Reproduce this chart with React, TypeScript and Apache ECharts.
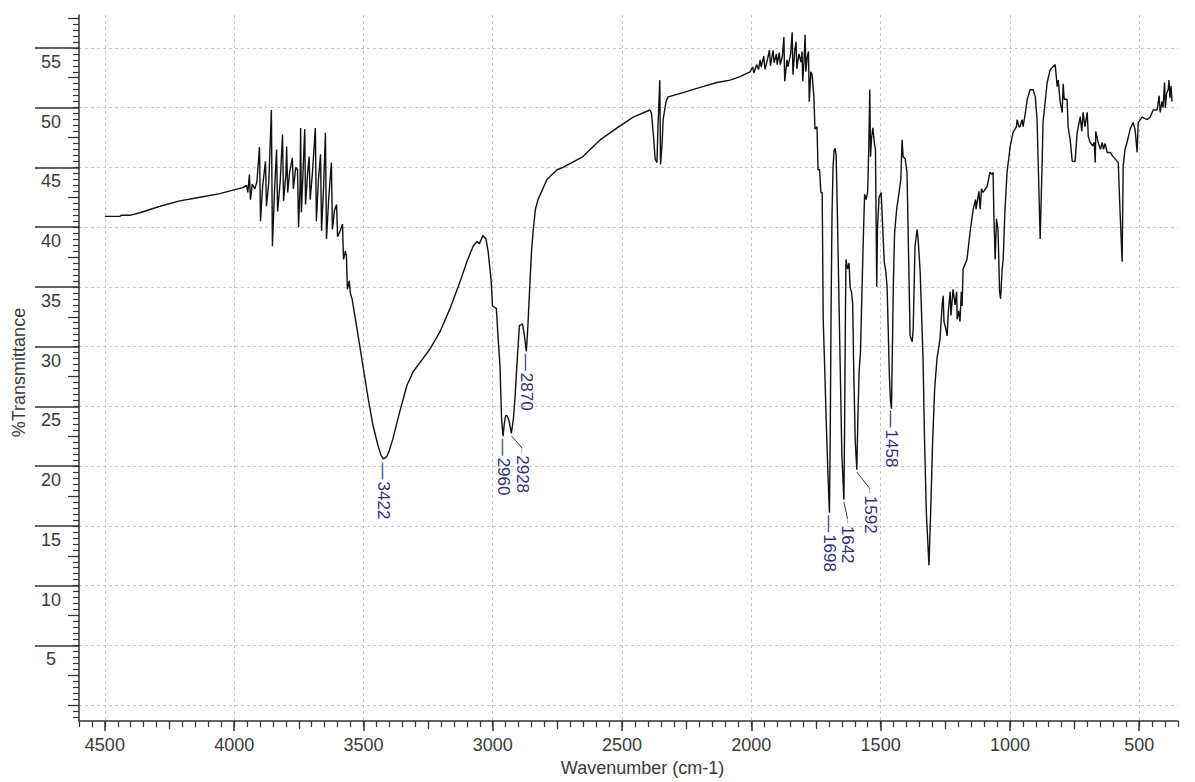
import React, { useEffect, useRef } from "react";
import * as echarts from "echarts";

// ---- spectrum data: [wavenumber (cm-1), %Transmittance] ----
const baselineRegion: [number, number][] = [
  [4500, 40.9], [4442, 40.9], [4436, 41.0], [4400, 41.0], [4364, 41.2], [4287, 41.75],
  [4210, 42.2], [4132, 42.5], [4055, 42.8], [4005, 43.1], [3966, 43.3],
];

const noisyRegion: [number, number][] = [
  [3952, 43.5], [3947, 42.9], [3941, 44.4], [3937, 42.3], [3930, 43.6], [3920, 43.2],
  [3912, 43.8], [3902, 46.7], [3898, 40.5], [3890, 43.4], [3879, 45.5], [3875, 41.75],
  [3866, 43.8], [3856, 49.8], [3852, 38.4], [3844, 43.0], [3836, 46.5], [3832, 41.3],
  [3822, 43.8], [3813, 47.75], [3809, 42.2], [3800, 44.4], [3797, 46.75], [3793, 42.9],
  [3786, 44.5], [3775, 45.8], [3771, 43.2], [3762, 45.0], [3755, 44.8], [3751, 40.0],
  [3745, 43.5], [3743, 48.3], [3740, 41.25], [3733, 45.0], [3727, 48.2], [3724, 41.9],
  [3716, 44.5], [3710, 45.9], [3706, 42.3], [3697, 44.6], [3686, 48.3], [3682, 40.5],
  [3674, 44.0], [3666, 46.1], [3662, 39.7], [3654, 43.4], [3647, 47.9], [3643, 39.0],
  [3634, 42.5], [3624, 45.4], [3620, 39.8], [3612, 41.4], [3604, 41.9], [3600, 39.2],
  [3590, 39.7], [3581, 40.25], [3577, 37.3], [3570, 38.0], [3566, 37.6], [3562, 34.8],
  [3555, 35.5], [3550, 34.4],
];

const ohChRegion: [number, number][] = [
  [3544, 34.0], [3525, 31.5], [3502, 28.4], [3482, 25.7], [3463, 23.4], [3444, 21.75],
  [3432, 20.9], [3422, 20.6], [3410, 20.8], [3400, 21.3], [3386, 22.3], [3359, 24.6],
  [3332, 26.75], [3308, 27.9], [3270, 29.0], [3243, 29.8], [3204, 31.25], [3165, 33.2],
  [3127, 35.4], [3100, 37.1], [3076, 38.4], [3060, 38.8], [3052, 38.6], [3038, 39.3],
  [3026, 39.0], [3018, 38.0], [3006, 35.5], [3001, 33.4], [2986, 33.2], [2980, 31.0],
  [2972, 28.4], [2966, 24.0], [2960, 22.5], [2955, 23.6], [2950, 24.25], [2944, 24.2],
  [2938, 23.9], [2928, 22.75], [2920, 24.0], [2914, 25.7], [2905, 29.0], [2897, 31.75],
  [2885, 31.9], [2878, 31.0], [2870, 29.6], [2864, 31.75], [2856, 35.4], [2850, 38.0],
  [2844, 39.6], [2835, 41.5], [2825, 42.3], [2790, 44.0], [2751, 44.8], [2728, 45.0],
  [2651, 45.9], [2585, 47.3], [2519, 48.3], [2457, 49.2], [2392, 49.8], [2386, 49.5],
  [2378, 47.5], [2372, 45.7], [2365, 45.4], [2361, 48.4], [2354, 52.3], [2351, 45.25],
  [2345, 47.0], [2341, 49.0], [2330, 50.5], [2322, 50.9], [2264, 51.25], [2198, 51.7],
  [2133, 52.1], [2082, 52.3], [2044, 52.6],
];

const noisyCarbonylRegion: [number, number][] = [
  [2005, 53.0], [1995, 53.4], [1990, 52.9], [1980, 53.6], [1972, 53.2], [1966, 54.0],
  [1962, 53.4], [1952, 54.3], [1947, 53.2], [1938, 54.0], [1930, 54.8], [1926, 53.5],
  [1916, 54.8], [1912, 53.75], [1903, 54.5], [1900, 53.6], [1892, 54.6], [1888, 53.6],
  [1880, 54.3], [1874, 55.9], [1871, 52.2], [1862, 54.0], [1858, 53.4], [1848, 54.5],
  [1842, 56.3], [1839, 52.75], [1832, 54.8], [1827, 55.5], [1824, 53.25], [1816, 54.5],
  [1808, 53.8], [1804, 54.7], [1801, 52.2], [1796, 54.0], [1792, 56.1], [1789, 53.0],
  [1784, 54.2], [1779, 54.7], [1776, 50.5], [1770, 53.0], [1765, 52.75], [1758, 50.9],
  [1754, 48.2], [1746, 48.4], [1742, 44.8], [1736, 44.8], [1731, 42.9], [1726, 42.9],
];

const fingerprintRegion: [number, number][] = [
  [1722, 32.3], [1716, 28.0], [1710, 23.5], [1704, 19.5], [1698, 16.1], [1695, 22.0],
  [1692, 32.0], [1688, 41.0], [1684, 45.0], [1680, 46.4], [1676, 46.6], [1672, 46.0],
  [1668, 42.0], [1662, 35.0], [1656, 28.0], [1650, 21.0], [1642, 17.2], [1639, 24.0],
  [1636, 33.0], [1634, 37.3], [1628, 36.5], [1622, 37.0], [1618, 35.0], [1612, 34.5],
  [1608, 33.5], [1604, 28.0], [1598, 22.0], [1592, 19.7], [1588, 24.0], [1583, 28.0],
  [1578, 29.5], [1574, 33.0], [1568, 38.2], [1562, 42.75], [1556, 42.3], [1550, 43.0],
  [1546, 46.5], [1542, 51.5], [1539, 45.9], [1535, 47.5], [1530, 48.3], [1524, 47.0],
  [1520, 46.5], [1515, 35.0], [1512, 40.0], [1506, 42.5], [1498, 42.9], [1492, 40.0],
  [1486, 37.1], [1480, 36.3], [1475, 35.0], [1471, 31.75], [1466, 27.5], [1462, 25.5],
  [1458, 24.8], [1455, 29.0], [1451, 35.0], [1446, 39.5], [1438, 41.5], [1428, 43.0],
  [1422, 44.0], [1417, 47.3], [1413, 45.9], [1405, 45.7], [1398, 44.6], [1394, 40.1],
  [1386, 30.9], [1378, 30.4], [1374, 31.5], [1367, 38.4], [1359, 39.8], [1355, 39.0],
  [1347, 36.25], [1336, 29.0], [1330, 22.0], [1323, 16.0], [1313, 11.7], [1306, 16.5],
  [1299, 22.0], [1291, 26.5], [1282, 29.0],
];

const lowRegion: [number, number][] = [
  [1270, 30.7], [1262, 33.5], [1258, 34.25], [1255, 32.1], [1248, 31.5], [1243, 30.9],
  [1238, 33.0], [1231, 34.6], [1228, 32.6], [1220, 34.8], [1212, 33.5], [1206, 34.6],
  [1204, 32.3], [1198, 33.0], [1193, 32.1], [1188, 34.6], [1185, 33.4], [1181, 36.5],
  [1166, 37.3], [1154, 39.6], [1142, 41.5], [1133, 42.3], [1131, 41.5], [1120, 43.0],
  [1115, 41.5], [1110, 43.2], [1104, 42.9], [1088, 43.4], [1077, 44.6], [1068, 44.4],
  [1065, 44.6], [1062, 40.9], [1057, 37.3], [1052, 40.7], [1046, 39.8], [1040, 34.6],
  [1036, 34.0], [1030, 36.5], [1026, 37.3], [1019, 41.5], [1011, 44.6], [999, 46.75],
  [988, 47.9], [975, 48.4], [972, 49.0], [965, 48.4], [961, 48.4], [953, 49.0],
  [949, 48.4], [940, 49.6], [933, 50.7], [922, 51.5], [910, 51.5], [902, 50.9],
  [895, 49.0], [891, 45.7], [883, 39.0], [875, 45.7], [872, 48.75], [856, 52.1],
  [844, 53.2], [825, 53.6], [817, 51.75], [813, 52.3], [806, 50.5], [798, 49.6],
  [794, 52.0], [790, 50.7], [779, 50.7], [775, 48.4], [767, 47.3], [759, 45.5],
  [748, 45.5], [740, 47.9], [728, 49.25], [722, 48.0], [717, 49.6], [710, 48.4],
  [701, 49.6], [697, 47.6], [690, 47.1], [680, 46.8], [674, 47.1], [670, 45.4],
  [668, 48.0], [659, 47.1], [650, 46.5], [643, 47.1], [638, 46.5], [632, 47.0],
  [624, 46.25], [612, 46.25], [601, 45.9], [581, 45.4], [574, 41.25], [566, 37.1],
  [562, 45.1], [555, 46.5], [547, 47.1], [535, 48.2], [524, 48.75], [516, 48.2],
  [508, 46.25], [504, 48.75], [489, 49.2], [469, 49.0], [458, 49.2], [446, 49.8],
  [431, 49.8], [423, 51.0], [419, 49.6], [412, 50.5], [408, 50.0], [402, 52.1],
  [399, 50.0], [394, 51.2], [388, 51.5], [385, 52.3], [381, 50.8], [377, 51.8],
  [373, 50.5],
];

// ---- axis ticks / labels ----
const xMajorTicks = [500, 1000, 1500, 2000, 2500, 3000, 3500, 4000, 4500];
const xMediumTicks = [750, 1250, 1750, 2250, 2750, 3250, 3750, 4250];
const yMajorTicks = [5, 10, 15, 20, 25, 30, 35, 40, 45, 50, 55];
const yGridValues = [0, 5, 10, 15, 20, 25, 30, 35, 40, 45, 50, 55];
const yMediumTicks = [0, 2.5, 7.5, 12.5, 17.5, 22.5, 27.5, 32.5, 37.5, 42.5, 47.5, 52.5, 57.5];

// ---- peak annotations ----
const peakLabels = ["3422", "2960", "2928", "2870", "1698", "1642", "1592", "1458"];
const peakWavenumbers = [3422, 2960, 2928, 2870, 1698, 1642, 1592, 1458];
const peakMinima = [20.6, 22.5, 22.75, 29.6, 16.1, 17.2, 19.7, 24.8];
const labelWavenumbers = [3422, 2960, 2886, 2870, 1698, 1628, 1541, 1458];
const labelTransmittance = [20.3, 22.3, 21.5, 29.4, 15.9, 15.6, 18.1, 24.65];
const bentLeader = [false, false, true, false, false, true, true, false];

const X_MIN = 350;
const X_MAX = 4600;
const Y_MIN = -1.333;
const Y_MAX = 57.75;

const FONT = "'Liberation Sans', Arial, Helvetica, sans-serif";
const AXIS_COLOR = "#3a3a3a";
const LABEL_COLOR = "#30307a";

export default function App() {
  const ref = useRef<HTMLDivElement>(null);

  useEffect(() => {
    if (!ref.current) return;
    const chart = echarts.init(ref.current, undefined, { renderer: "svg" });

    const spectrum = [
      ...baselineRegion,
      ...noisyRegion,
      ...ohChRegion,
      ...noisyCarbonylRegion,
      ...fingerprintRegion,
      ...lowRegion,
    ];

    const xMinorTicks: number[] = [];
    for (let v = X_MIN; v <= X_MAX; v += 50) xMinorTicks.push(v);
    const yMinorTicks: number[] = [];
    for (let v = -1; v <= 57.5; v += 0.5) yMinorTicks.push(v);

    const baseX = {
      type: "value" as const,
      min: X_MIN,
      max: X_MAX,
      inverse: true,
      position: "bottom" as const,
      gridIndex: 0,
      offset: 0,
    };
    const baseY = {
      type: "value" as const,
      min: Y_MIN,
      max: Y_MAX,
      position: "left" as const,
      gridIndex: 0,
      offset: 0,
    };

    const hiddenParts = {
      axisLine: { show: false, onZero: false },
      axisLabel: { show: false },
      splitLine: { show: false },
    };

    const markPointData = peakLabels.map((lab, i) => ({
      name: lab,
      coord: [labelWavenumbers[i], labelTransmittance[i]],
      label: {
        formatter: bentLeader[i] ? `{s|—}{t|${lab}}` : `{d|—}{t|${lab}}`,
      },
    }));

    const markLineData = peakLabels
      .map((_, i) => i)
      .filter((i) => bentLeader[i])
      .map((i) => [
        { coord: [peakWavenumbers[i], peakMinima[i] - 0.2] },
        { coord: [labelWavenumbers[i], labelTransmittance[i]] },
      ]);

    const plain = (v: number) => String(v);

    const option: any = {
      animation: false,
      backgroundColor: "#ffffff",
      textStyle: { fontFamily: FONT },
      grid: { left: 79, right: 17, top: 15, bottom: 58, containLabel: false },
      xAxis: [
        {
          ...baseX,
          name: "Wavenumber (cm-1)",
          nameLocation: "middle",
          nameGap: 37,
          nameTextStyle: { fontSize: 18, color: AXIS_COLOR, fontFamily: FONT, padding: [0, 0, 0, 28] },
          axisLine: { show: true, onZero: false, lineStyle: { color: "#333", width: 1.5 } },
          axisTick: { show: true, customValues: xMajorTicks, length: 10, lineStyle: { color: "#333", width: 1.5 } },
          axisLabel: {
            show: true,
            customValues: xMajorTicks,
            formatter: plain,
            margin: 15,
            fontSize: 18,
            color: AXIS_COLOR,
            fontFamily: FONT,
          },
          splitLine: { show: true, lineStyle: { color: "#c8c8c8", width: 1, type: [3, 3] } },
        },
        {
          ...baseX,
          ...hiddenParts,
          axisTick: { show: true, customValues: xMediumTicks, length: 8, lineStyle: { color: "#333", width: 1.2 } },
        },
        {
          ...baseX,
          ...hiddenParts,
          axisTick: { show: true, customValues: xMinorTicks, length: 6, lineStyle: { color: "#333", width: 1.2 } },
        },
      ],
      yAxis: [
        {
          ...baseY,
          name: "%Transmittance",
          nameLocation: "middle",
          nameGap: 51,
          nameTextStyle: { fontSize: 18, color: AXIS_COLOR, fontFamily: FONT, padding: [0, 9, 0, 0] },
          axisLine: { show: true, onZero: false, lineStyle: { color: "#333", width: 1.5 } },
          axisTick: { show: false, customValues: yGridValues },
          axisLabel: {
            show: true,
            customValues: yMajorTicks,
            formatter: plain,
            margin: 28,
            align: "center",
            verticalAlign: "top",
            padding: [5, 0, 0, 0],
            fontSize: 18,
            color: AXIS_COLOR,
            fontFamily: FONT,
          },
          splitLine: { show: true, lineStyle: { color: "#c8c8c8", width: 1, type: [3, 3] } },
        },
        {
          ...baseY,
          ...hiddenParts,
          axisTick: { show: true, customValues: yMajorTicks, length: 44, lineStyle: { color: "#333", width: 1.5 } },
        },
        {
          ...baseY,
          ...hiddenParts,
          axisTick: { show: true, customValues: yMediumTicks, length: 11, lineStyle: { color: "#333", width: 1.2 } },
        },
        {
          ...baseY,
          ...hiddenParts,
          axisTick: { show: true, customValues: yMinorTicks, length: 6, lineStyle: { color: "#333", width: 1.2 } },
        },
      ],
      series: [
        {
          type: "line",
          name: "spectrum",
          xAxisIndex: 0,
          yAxisIndex: 0,
          data: spectrum,
          showSymbol: false,
          symbol: "none",
          silent: true,
          lineStyle: { color: "#111111", width: 1.4 },
          markPoint: {
            silent: true,
            symbol: "circle",
            symbolSize: 1,
            itemStyle: { color: "rgba(0,0,0,0)" },
            label: {
              show: true,
              position: "inside",
              rotate: -90,
              align: "left",
              verticalAlign: "middle",
              color: LABEL_COLOR,
              fontFamily: FONT,
              rich: {
                d: { fontSize: 17, color: LABEL_COLOR, fontFamily: FONT, padding: [0, 2, 0, 0] },
                s: { fontSize: 5, color: LABEL_COLOR, fontFamily: FONT, padding: [0, 2, 0, 0] },
                t: { fontSize: 17, color: LABEL_COLOR, fontFamily: FONT },
              },
            },
            data: markPointData,
          },
          markLine: {
            silent: true,
            symbol: ["none", "none"],
            label: { show: false },
            emphasis: { disabled: true },
            lineStyle: { color: LABEL_COLOR, width: 1, type: "solid" },
            data: markLineData,
          },
        },
      ],
    };

    chart.setOption(option);
    return () => chart.dispose();
  }, []);

  return (
    <div
      ref={ref}
      style={{ position: "absolute", left: 0, top: 0, width: 1195, height: 782, background: "#fff" }}
    />
  );
}
